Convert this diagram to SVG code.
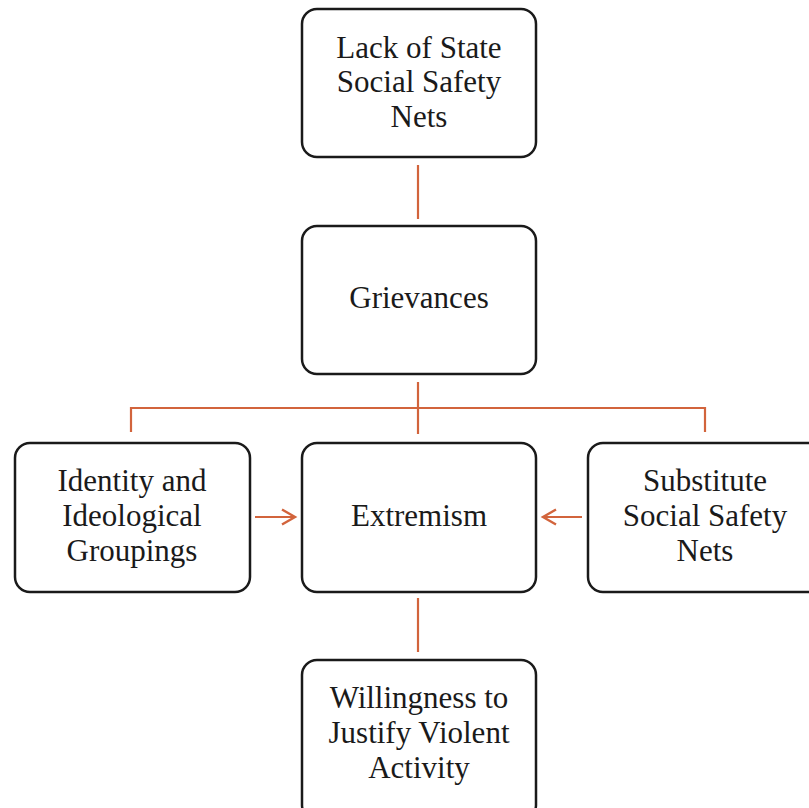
<svg xmlns="http://www.w3.org/2000/svg" width="809" height="808" viewBox="0 0 809 808">
<style>
.box{fill:#fff;stroke:#1a1a1a;stroke-width:2.5}
.t{font-family:'Liberation Serif','Times New Roman',Times,'DejaVu Serif',serif;font-size:31px;fill:#1a1a1a;text-anchor:middle}
.c{fill:none;stroke:#d2643c;stroke-width:2.2}
</style>
<defs>
<marker id="ah" markerWidth="20" markerHeight="20" refX="17" refY="10" orient="auto" markerUnits="userSpaceOnUse">
<path d="M4,2.5 L17,10 L4,17.5" fill="none" stroke="#d2643c" stroke-width="2.4"/>
</marker>
</defs>
<rect width="809" height="808" fill="#fff"/>
<g id="connectors">
<line class="c" x1="418" y1="165" x2="418" y2="219"/>
<line class="c" x1="418" y1="382" x2="418" y2="434"/>
<polyline class="c" points="131,432 131,408 705,408 705,432"/>
<line class="c" x1="255" y1="517" x2="295" y2="517" marker-end="url(#ah)"/>
<line class="c" x1="582" y1="517" x2="543" y2="517" marker-end="url(#ah)"/>
<line class="c" x1="418" y1="598" x2="418" y2="652"/>
</g>
<g id="lack">
<rect class="box" x="302" y="9" width="234" height="148" rx="15"/>
<text class="t" x="419" y="58">Lack of State</text>
<text class="t" x="419" y="92">Social Safety</text>
<text class="t" x="419" y="127">Nets</text>
</g>
<g id="grievances">
<rect class="box" x="302" y="226" width="234" height="148" rx="15"/>
<text class="t" x="419" y="308">Grievances</text>
</g>
<g id="identity">
<rect class="box" x="15" y="443" width="235" height="149" rx="15"/>
<text class="t" x="132" y="491">Identity and</text>
<text class="t" x="132" y="526">Ideological</text>
<text class="t" x="132" y="561">Groupings</text>
</g>
<g id="extremism">
<rect class="box" x="302" y="443" width="234" height="149" rx="15"/>
<text class="t" x="419" y="526">Extremism</text>
</g>
<g id="substitute">
<rect class="box" x="588" y="443" width="240" height="149" rx="15"/>
<text class="t" x="705" y="491">Substitute</text>
<text class="t" x="705" y="526">Social Safety</text>
<text class="t" x="705" y="561">Nets</text>
</g>
<g id="willingness">
<rect class="box" x="302" y="660" width="234" height="160" rx="15"/>
<text class="t" x="419" y="708">Willingness to</text>
<text class="t" x="419" y="743">Justify Violent</text>
<text class="t" x="419" y="778">Activity</text>
</g>
</svg>
